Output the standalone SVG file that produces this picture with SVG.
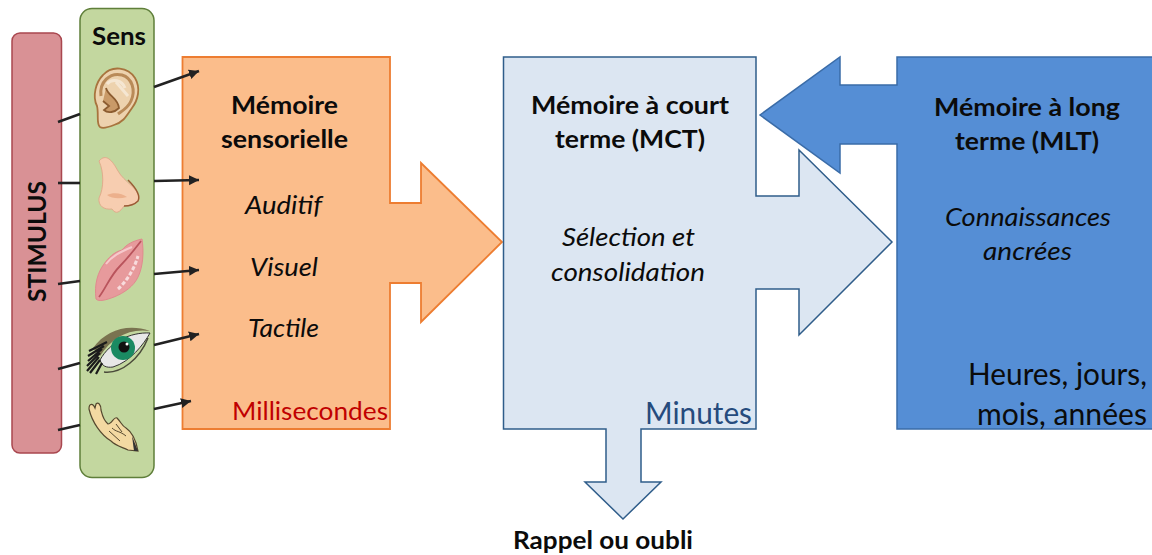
<svg xmlns="http://www.w3.org/2000/svg" width="1152" height="555" viewBox="0 0 1152 555">
<style>
text{font-family:Lato,"Liberation Sans",sans-serif;fill:#0b0b0b}
.t{font-size:25.500px;font-weight:700}
.i{font-size:25.500px;font-style:italic}
.n{font-size:30px}
.c{stroke:#222;stroke-width:2.6;fill:none}
</style>
<defs><marker id="a" markerUnits="userSpaceOnUse" markerWidth="12" markerHeight="12" refX="10" refY="5" orient="auto"><path d="M0 0L10 5L0 10Z" fill="#222"/></marker></defs>
<rect width="1152" height="555" fill="#fff"/>
<g id="stimulus"><rect x="12" y="33" width="49.500" height="420" rx="8" fill="#d99195" stroke="#a9474f" stroke-width="1.500"/>
<text class="t" transform="translate(46 302) rotate(-90)" textLength="121" lengthAdjust="spacingAndGlyphs">STIMULUS</text></g>
<g id="sens"><rect x="80" y="8.500" width="74" height="469" rx="12" fill="#c3d79f" stroke="#5f7f3a" stroke-width="1.500"/>
<text class="t" x="92" y="45" textLength="54" lengthAdjust="spacingAndGlyphs">Sens</text>
<g id="ear"><path d="M100 127C96 124 99 114 97 106C92 96 96 82 103 75C112 65 128 67 135 78C141 88 138 100 132 108C127 115 124 122 114 125C109 127 103 129 100 127Z" fill="#edd2ae" stroke="#a8743e" stroke-width="1.800"/>
<path d="M101 96C99 82 110 72 122 75C132 78 136 90 131 101C128 108 122 111 118 114" fill="none" stroke="#b98a58" stroke-width="3"/>
<path d="M107 84C112 78 122 80 125 88" fill="none" stroke="#f5e6d2" stroke-width="3"/>
<path d="M106 88C108 96 118 98 119 108C115 112 108 114 104 110L109 106L103 101" fill="#c99a68" stroke="#8c5c30" stroke-width="1.800"/>
<path d="M116 82L128 96" stroke="#f5e6d2" stroke-width="3"/></g>
<g id="nose"><path d="M99 161C106 153 112 160 118 171C124 182 139 188 139 199C138 204 130 206 124 206C120 212 116 215 112 209C104 210 98 206 99 198C104 188 104 172 99 161Z" fill="#f7cdb0" stroke="#e0ac8c" stroke-width="1"/>
<path d="M128 180C136 188 141 195 138 201C134 205 128 206 124 206" fill="none" stroke="#9a5a34" stroke-width="1.500"/>
<path d="M107 195C113 192 122 193 127 197C120 199 112 199 107 195Z" fill="#ecb08c"/></g>
<g id="lips"><path d="M142 239C133 241 127 244 122 250C114 252 108 258 104 264C98 272 94 284 96 299C99 302 106 300 114 297C124 293 134 286 138 277C143 267 144 252 142 239Z" fill="#e79a9c" stroke="#e08a8e" stroke-width="1"/>
<path d="M99 297C106 288 110 276 120 266C128 258 134 250 141 241" fill="none" stroke="#b9545c" stroke-width="1.800"/>
<path d="M118 289C126 282 134 270 138 256" fill="none" stroke="#f8dcdd" stroke-width="3" stroke-dasharray="4 2"/>
<path d="M106 264C112 256 120 252 132 247" fill="none" stroke="#f6c9cc" stroke-width="2"/></g>
<g id="eye"><path d="M100 360C110 342 130 332 150 333C144 344 130 362 113 367C106 368 102 366 100 360Z" fill="#e8e8e8" stroke="#333" stroke-width="1"/>
<path d="M93 348C106 330 128 323 150 331C128 328 112 338 100 356Z" fill="#7a7350"/>
<circle cx="123" cy="348" r="12" fill="#1a8a62"/><circle cx="124" cy="347" r="5.500" fill="#111"/><circle cx="127" cy="344" r="1.500" fill="#fff"/>
<path d="M107 342L89 351M104 346L88 356M102 349L88 361M100 353L87 366M99 357L87 371M100 360L90 373M102 363L96 374" stroke="#1b1b1b" stroke-width="2.200" fill="none"/>
<path d="M104 372C122 374 140 358 148 338" fill="none" stroke="#4a4a3a" stroke-width="1.500"/></g>
<g id="hand"><path d="M89 409C89 403 93 403 95 408L96 404C98 402 101 404 101 410C102 414 103 420 108 424C112 424 114 416 117 418C121 422 122 426 126 428C132 432 136 440 138 451L128 450C122 447 116 446 111 441C101 435 92 422 89 409Z" fill="#f3d9a2" stroke="#55482f" stroke-width="1.200"/>
<path d="M112 428C116 432 120 431 126 436M109 431L120 441M116 424L122 432" fill="none" stroke="#55482f" stroke-width="1"/>
<path d="M132 436L138 451L134 451Z" fill="#333"/></g></g>
<g id="sensorielle"><path d="M182.500 57H390V203H421V163L502 242L421 322V283H390V429H182.500Z" fill="#fbbd8b" stroke="#ed7d31" stroke-width="1.800"/>
<text class="t" x="231" y="114" textLength="107" lengthAdjust="spacingAndGlyphs">Mémoire</text>
<text class="t" x="221" y="148" textLength="127" lengthAdjust="spacingAndGlyphs">sensorielle</text>
<text class="i" x="245" y="214" textLength="77" lengthAdjust="spacingAndGlyphs">Auditif</text>
<text class="i" x="250" y="276" textLength="68" lengthAdjust="spacingAndGlyphs">Visuel</text>
<text class="i" x="248" y="337" textLength="71" lengthAdjust="spacingAndGlyphs">Tactile</text>
<text x="232" y="420" font-size="25.500" style="fill:#c00000" textLength="156" lengthAdjust="spacingAndGlyphs">Millisecondes</text></g>
<g id="mct"><path d="M503.500 57H756V196H799V150L892 242L799 335V289H756V429H641V482H661L623 519L585 482H606V429H503.500Z" fill="#dce6f2" stroke="#2f5d8a" stroke-width="1.500"/>
<text class="t" x="531" y="114" textLength="198" lengthAdjust="spacingAndGlyphs">Mémoire à court</text>
<text class="t" x="555" y="148" textLength="150" lengthAdjust="spacingAndGlyphs">terme (MCT)</text>
<text class="i" x="562" y="246" textLength="133" lengthAdjust="spacingAndGlyphs">Sélection et</text>
<text class="i" x="551" y="281" textLength="154" lengthAdjust="spacingAndGlyphs">consolidation</text>
<text class="n" x="645" y="424" style="fill:#264b7d" textLength="107" lengthAdjust="spacingAndGlyphs">Minutes</text></g>
<g id="mlt"><path d="M1153 57H897V85H840V57L760 115L840 173V144H897V429H1153Z" fill="#558ed5" stroke="#3a6ca8" stroke-width="1.500"/>
<text class="t" x="934" y="116" textLength="186" lengthAdjust="spacingAndGlyphs">Mémoire à long</text>
<text class="t" x="955" y="150" textLength="144" lengthAdjust="spacingAndGlyphs">terme (MLT)</text>
<text class="i" x="945" y="226" textLength="166" lengthAdjust="spacingAndGlyphs">Connaissances</text>
<text class="i" x="983" y="260" textLength="89" lengthAdjust="spacingAndGlyphs">ancrées</text>
<text class="n" x="968" y="385" textLength="179" lengthAdjust="spacingAndGlyphs">Heures, jours,</text>
<text class="n" x="977" y="425" textLength="170" lengthAdjust="spacingAndGlyphs">mois, années</text></g>
<g id="rappel"><text class="t" x="513" y="549" textLength="180" lengthAdjust="spacingAndGlyphs">Rappel ou oubli</text></g>
<g id="connectors">
<path class="c" d="M58 122L80 114"/><path class="c" d="M58 183L80 183"/><path class="c" d="M58 284L80 281"/><path class="c" d="M58 369L80 363"/><path class="c" d="M58 430L80 425"/>
<path class="c" marker-end="url(#a)" d="M154 87L199 71"/><path class="c" marker-end="url(#a)" d="M154 181L199 180"/><path class="c" marker-end="url(#a)" d="M154 274L199 270"/><path class="c" marker-end="url(#a)" d="M154 345L199 334"/><path class="c" marker-end="url(#a)" d="M154 409L191 401"/>
</g>
</svg>
